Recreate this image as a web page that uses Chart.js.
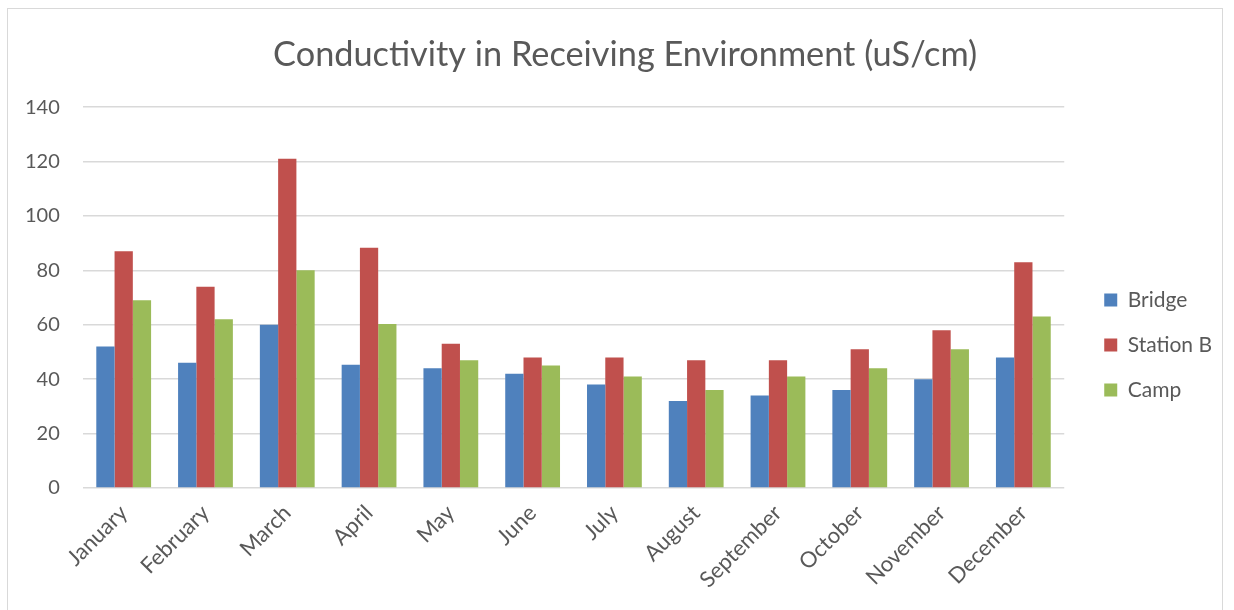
<!DOCTYPE html>
<html>
<head>
<meta charset="utf-8">
<script src="https://cdn.jsdelivr.net/npm/chart.js@4"></script>
<style>
  html, body { margin: 0; padding: 0; background: #fff; overflow: hidden; }
</style>
</head>
<body>
<canvas id="chart" width="1234" height="610"></canvas>
<script>
const months = ["January", "February", "March", "April", "May", "June", "July",
  "August", "September", "October", "November", "December"];
const bridge = [52, 46, 60, 45.3, 44, 42, 38, 32, 34, 36, 40, 48];
const stationB = [87, 74, 121, 88.3, 53, 48, 48, 47, 47, 51, 58, 83];
const camp = [69, 62, 80, 60.3, 47, 45, 41, 36, 41, 44, 51, 63];

const textColor = "#595959";

// light frame around the chart, like the spreadsheet chart area
const framePlugin = {
  id: "frame",
  beforeDraw(chart) {
    const ctx = chart.ctx;
    ctx.save();
    ctx.strokeStyle = "#d9d9d9";
    ctx.lineWidth = 1;
    ctx.strokeRect(7.5, 8.5, 1215, 620);
    ctx.restore();
  }
};

new Chart("chart", {
  type: "bar",
  data: {
    labels: months,
    datasets: [
      { label: "Bridge", data: bridge, backgroundColor: "#4f81bd" },
      { label: "Station B", data: stationB, backgroundColor: "#c0504d" },
      { label: "Camp", data: camp, backgroundColor: "#9bbb59" },
    ],
  },
  options: {
    responsive: false,
    animation: false,
    devicePixelRatio: 1,
    layout: { padding: { top: 34, left: 2, right: 12, bottom: 13 } },
    datasets: { bar: { barPercentage: 1, categoryPercentage: 0.67 } },
    plugins: {
      title: {
        display: true,
        // leading spaces nudge the centred title to the right like the original
        text: "\u00a0\u00a0\u00a0Conductivity in Receiving Environment (uS/cm)",
        color: textColor,
        font: { family: "Lato", size: 34.3, weight: "normal" },
        padding: { top: 0, bottom: 32 },
      },
      legend: {
        position: "right",
        title: { display: true, text: " ", font: { size: 4 }, padding: { top: 54, bottom: 0 } },
        labels: {
          color: textColor,
          font: { family: "Lato", size: 21 },
          boxWidth: 13,
          boxHeight: 13,
          padding: 24,
        },
      },
      tooltip: { enabled: false },
    },
    scales: {
      x: {
        grid: { display: false },
        border: { display: false },
        ticks: {
          color: textColor,
          font: { family: "Lato", size: 22 },
          maxRotation: 45,
          minRotation: 45,
          padding: 4,
        },
      },
      y: {
        min: 0,
        max: 140,
        ticks: {
          stepSize: 20,
          color: textColor,
          font: { family: "Lato", size: 20 },
          padding: 23,
        },
        grid: { color: "#d9d9d9", lineWidth: 1.5, drawTicks: false },
        border: { display: false },
      },
      // empty spacer between plot and legend
      gap: {
        position: "right",
        display: true,
        grid: { display: false },
        border: { display: false },
        ticks: { display: false },
        afterFit(scale) { scale.width = 16; },
      },
    },
  },
  plugins: [framePlugin],
});
</script>
</body>
</html>
